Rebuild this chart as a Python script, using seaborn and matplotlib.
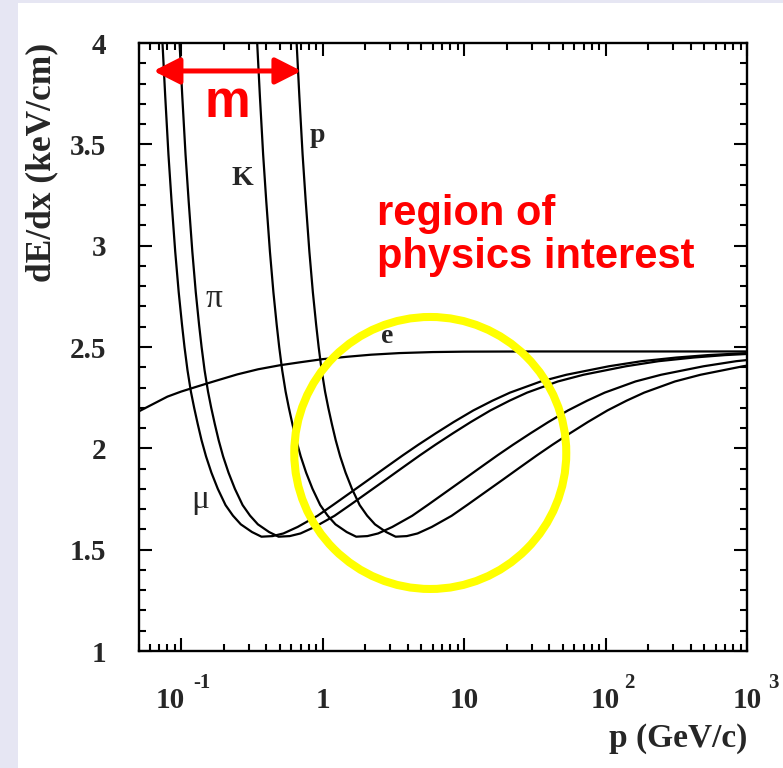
import numpy as np
import pandas as pd
import matplotlib
matplotlib.use("Agg")
import matplotlib.pyplot as plt
import seaborn as sns
from matplotlib.patches import Ellipse, Rectangle
from matplotlib.ticker import LogLocator, MultipleLocator, NullFormatter, FuncFormatter

# Mean energy loss (keV/cm) on a common beta*gamma grid, shared by mu, pi, K, p
dedx_curve = [4.19, 3.99, 3.74, 3.45, 3.22, 2.97, 2.77, 2.61, 2.50, 2.385,
              2.28, 2.20, 2.12, 2.04, 1.96, 1.88, 1.80, 1.72, 1.668, 1.625,
              1.587, 1.564, 1.567, 1.58, 1.612, 1.667, 1.722, 1.783, 1.845, 1.902,
              1.966, 2.018, 2.075, 2.13, 2.187, 2.235, 2.275, 2.33, 2.363, 2.405,
              2.43, 2.448, 2.46, 2.47]

# Momenta (GeV/c) at those grid points for each particle
p_mu = [0.0719, 0.0740, 0.0772, 0.0814, 0.0856, 0.0909, 0.0962, 0.1015, 0.1057, 0.1110,
        0.1173, 0.1237, 0.1311, 0.1395, 0.1501, 0.1638, 0.1818, 0.2061, 0.2325, 0.2643,
        0.3171, 0.370, 0.444, 0.5285, 0.666, 0.920, 1.194, 1.586, 2.114, 2.748,
        3.70, 4.757, 6.342, 8.456, 11.63, 15.86, 21.14, 34.88, 52.85, 105.7,
        179.7, 317.1, 528.5, 1004.0]
p_pi = [0.0949, 0.0977, 0.1019, 0.1075, 0.1131, 0.1201, 0.1270, 0.1340, 0.1396, 0.1466,
        0.1550, 0.1633, 0.1731, 0.1843, 0.1982, 0.2164, 0.2401, 0.2722, 0.3071, 0.349,
        0.4188, 0.4886, 0.5863, 0.698, 0.8795, 1.2145, 1.577, 2.094, 2.792, 3.630,
        4.886, 6.282, 8.376, 11.17, 15.36, 20.94, 27.92, 46.07, 69.8, 139.6,
        237.3, 418.8, 698.0, 1326.0]
p_K = [0.3357, 0.3456, 0.3604, 0.3801, 0.3999, 0.4246, 0.4493, 0.4740, 0.4937, 0.5184,
       0.5480, 0.5776, 0.6122, 0.6517, 0.7011, 0.7652, 0.8492, 0.9627, 1.086, 1.234,
       1.481, 1.728, 2.074, 2.469, 3.110, 4.295, 5.579, 7.406, 9.874, 12.84,
       17.28, 22.22, 29.62, 39.50, 54.31, 74.06, 98.74, 162.9, 246.9, 493.7,
       839.3, 1481.0]
p_p = [0.638, 0.6568, 0.6850, 0.7225, 0.7600, 0.8069, 0.8539, 0.9008, 0.9383, 0.9852,
       1.0415, 1.0978, 1.1635, 1.2386, 1.3324, 1.4544, 1.6139, 1.8297, 2.064, 2.346,
       2.815, 3.284, 3.941, 4.692, 5.911, 8.163, 10.60, 14.07, 18.77, 24.40,
       32.84, 42.22, 56.30, 75.06, 103.2, 140.7, 187.7, 309.6, 469.2, 938.3,
       1595.0]

# Electrons are already on the relativistic rise over the whole range
p_e = [0.048, 0.06, 0.08, 0.1, 0.13, 0.17, 0.25, 0.35, 0.5, 0.7,
       1.0, 1.5, 2.2, 3.5, 6.0, 10.0, 30.0, 100.0, 1000.0]
dedx_e = [2.175, 2.21, 2.255, 2.28, 2.305, 2.33, 2.365, 2.39, 2.41, 2.425,
          2.44, 2.452, 2.462, 2.47, 2.475, 2.477, 2.478, 2.478, 2.478]

x_major = [0.1, 1, 10, 100, 1000]
x_base = ["10", "1", "10", "10", "10"]
x_exp = ["-1", "", "", "2", "3"]

frames = []
for name, mom in [("mu", p_mu), ("pi", p_pi), ("K", p_K), ("p", p_p)]:
    frames.append(pd.DataFrame({"p": mom, "dedx": dedx_curve[:len(mom)], "particle": name}))
frames.append(pd.DataFrame({"p": p_e, "dedx": dedx_e, "particle": "e"}))
df = pd.concat(frames, ignore_index=True)

sns.set_theme(style="ticks")
plt.rcParams["font.family"] = ["Liberation Serif", "DejaVu Serif"]

W, H = 783, 768
fig = plt.figure(figsize=(W / 100, H / 100), dpi=100)
fig.patch.set_facecolor("#e6e6f3")
fig.add_artist(Rectangle((18 / W, 0), 1 - 18 / W, (H - 3) / H, transform=fig.transFigure,
                         facecolor="white", edgecolor="none", zorder=-1))

ax = fig.add_axes([138.5 / W, (H - 651) / H, (747 - 138.5) / W, (651 - 43) / H])
ax.set_facecolor("white")

sns.lineplot(data=df, x="p", y="dedx", units="particle", estimator=None, sort=False,
             color="black", lw=1.6, ax=ax, legend=False)

ax.set_xscale("log")
ax.set_xlim(0.05, 1000)
ax.set_ylim(1, 4)

for s in ax.spines.values():
    s.set_linewidth(1.7)
    s.set_color("black")
    s.set_visible(True)

ax.xaxis.set_major_locator(LogLocator(base=10, numticks=12))
ax.xaxis.set_minor_locator(LogLocator(base=10, subs=np.arange(2, 10), numticks=50))
ax.xaxis.set_major_formatter(NullFormatter())
ax.xaxis.set_minor_formatter(NullFormatter())
ax.yaxis.set_major_locator(MultipleLocator(0.5))
ax.yaxis.set_minor_locator(MultipleLocator(0.1))
ax.yaxis.set_major_formatter(FuncFormatter(lambda v, _: f"{v:g}"))

ax.tick_params(which="both", direction="in", top=True, right=True, width=1.5,
               color="black")
ax.tick_params(which="major", length=9.4)
ax.tick_params(which="minor", length=5.3)
ax.tick_params(axis="y", which="major", pad=23, labelsize=21)
for lab in ax.get_yticklabels():
    lab.set_fontweight("bold")

# Decade labels in ROOT style: base number plus raised exponent
base_dx = [-7.9, 0, 0, 0, 0]
exp_dx = [8.6, 0, 0, 13.7, 15.1]
for xv, b, e, bdx, edx in zip(x_major, x_base, x_exp, base_dx, exp_dx):
    ax.annotate(b, xy=(xv, 0), xycoords=("data", "axes fraction"),
                xytext=(bdx, -41), textcoords="offset points",
                ha="center", va="baseline", fontsize=21, fontweight="bold",
                annotation_clip=False)
    if e:
        ax.annotate(e, xy=(xv, 0), xycoords=("data", "axes fraction"),
                    xytext=(edx, -26.6), textcoords="offset points",
                    ha="left", va="baseline", fontsize=15, fontweight="bold",
                    annotation_clip=False)

ax.set_xlabel("p (GeV/c)", fontsize=24, fontweight="bold")
ax.xaxis.set_label_coords(1.0, -0.158)
ax.xaxis.label.set_ha("right")
ax.xaxis.label.set_va("baseline")

ax.set_ylabel("dE/dx (keV/cm)", fontsize=25.5, fontweight="bold")
ax.yaxis.label.set_rotation_mode("anchor")
ax.yaxis.label.set_ha("right")
ax.yaxis.label.set_va("center")
ax.yaxis.set_label_coords(-0.159, 1.0)

# Particle names next to their curves
ax.text(0.922, 3.511, "p", fontsize=20, fontweight="bold", ha="center", va="baseline")
ax.text(0.2713, 3.299, "K", fontsize=20, fontweight="bold", ha="center", va="baseline")
ax.text(0.1718, 2.697, "\u03c0", fontsize=24, ha="center", va="baseline")
ax.text(2.84, 2.520, "e", fontsize=20, fontweight="bold", ha="center", va="baseline")
ax.text(0.1368, 1.706, "\u03bc", fontsize=24, ha="center", va="baseline")

# Highlighted momentum window
ax.add_patch(Ellipse((0.4795, 0.3257), width=2 * 136 / 608.5, height=2 * 136 / 608,
                     transform=ax.transAxes, fill=False, edgecolor="#ffff00",
                     lw=5.8, zorder=5))

red = "#ff0000"
ax.text(0.3924, 0.7007, "region of", transform=ax.transAxes, color=red,
        fontsize=30, fontweight="bold", family=["Liberation Sans", "DejaVu Sans"],
        ha="left", va="baseline", zorder=6)
ax.text(0.3924, 0.630, "physics interest", transform=ax.transAxes, color=red,
        fontsize=30, fontweight="bold", family=["Liberation Sans", "DejaVu Sans"],
        ha="left", va="baseline", zorder=6)

ax.annotate("", xy=(0.2677, 0.954), xytext=(0.0246, 0.954), xycoords="axes fraction",
            arrowprops=dict(arrowstyle="<|-|>,head_length=0.79,head_width=0.4",
                            color=red, lw=3.6, shrinkA=0, shrinkB=0,
                            mutation_scale=20), zorder=6)
ax.text(0.1453, 0.878, "m", transform=ax.transAxes, color=red, fontsize=37,
        fontweight="bold", family=["Liberation Sans", "DejaVu Sans"],
        ha="center", va="baseline", zorder=6)

fig.savefig("out.png", dpi=100)
